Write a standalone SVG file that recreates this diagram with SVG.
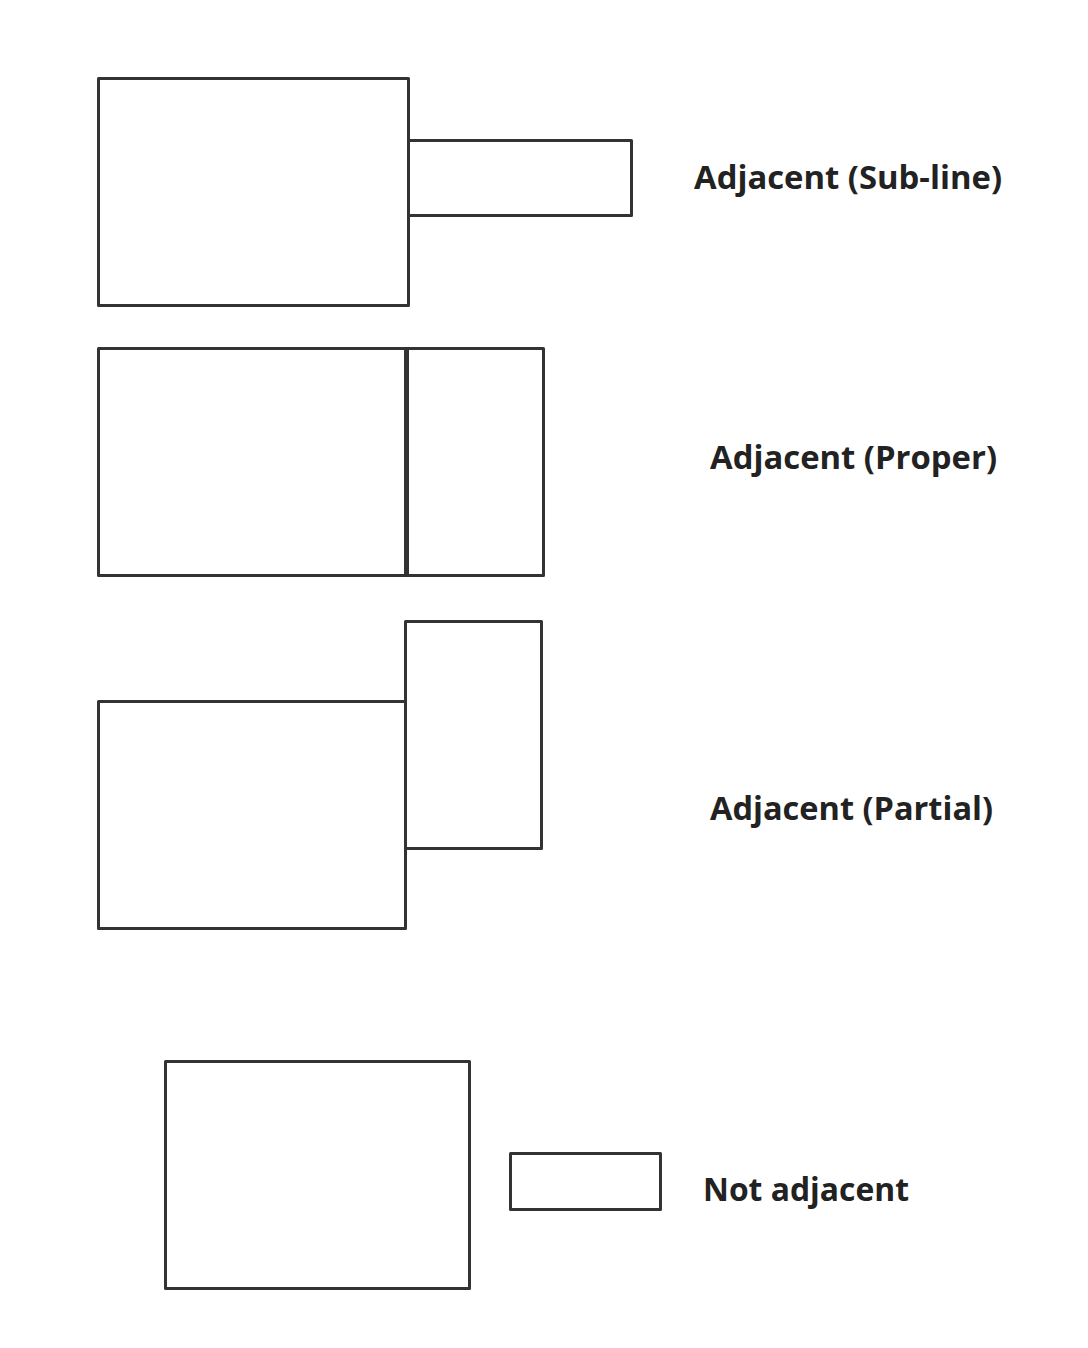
<svg xmlns="http://www.w3.org/2000/svg" width="1088" height="1348" viewBox="0 0 1088 1348">
<style>
.box{fill:#fff;stroke:#333;stroke-width:3;stroke-linejoin:round}
.lbl{font-family:"Open Sans","Noto Sans",sans-serif;font-weight:bold;font-size:32px;fill:#222}
</style>
<rect width="1088" height="1348" fill="#fff"/>
<g id="sub-line">
<rect class="box" x="98.5" y="78.5" width="310" height="227"/>
<rect class="box" x="408.5" y="140.5" width="223" height="75"/>
<text class="lbl" x="694" y="189" textLength="308" lengthAdjust="spacingAndGlyphs">Adjacent (Sub-line)</text>
</g>
<g id="proper">
<rect class="box" x="98.5" y="348.5" width="445" height="227"/>
<line x1="406.5" y1="348.5" x2="406.5" y2="575.5" stroke="#333" stroke-width="5"/>
<text class="lbl" x="710" y="469" textLength="287" lengthAdjust="spacingAndGlyphs">Adjacent (Proper)</text>
</g>
<g id="partial">
<rect class="box" x="98.5" y="701.5" width="307" height="227"/>
<rect class="box" x="405.5" y="621.5" width="136" height="227"/>
<text class="lbl" x="710" y="820" textLength="283" lengthAdjust="spacingAndGlyphs">Adjacent (Partial)</text>
</g>
<g id="not-adjacent">
<rect class="box" x="165.5" y="1061.5" width="304" height="227"/>
<rect class="box" x="510.5" y="1153.5" width="150" height="56"/>
<text class="lbl" x="703" y="1201" textLength="206" lengthAdjust="spacingAndGlyphs">Not adjacent</text>
</g>
<g id="connectors"/>
</svg>
